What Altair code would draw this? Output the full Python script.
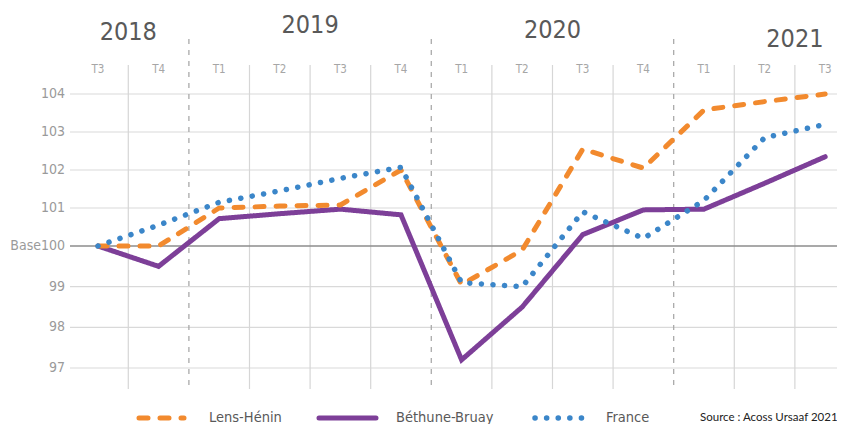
import altair as alt
import pandas as pd

# ---- data ----
quarters = ["T3", "T4", "T1", "T2", "T3", "T4", "T1", "T2", "T3", "T4", "T1", "T2", "T3"]
years = ["2018", "2019", "2020", "2021"]
year_centers = [0.5, 3.5, 7.5, 11.5]          # in quarter-index units
year_boundaries = [1.5, 5.5, 9.5]
series = ["Lens-Hénin", "Béthune-Bruay", "France"]
lens = [100.0, 100.0, 101.0, 101.05, 101.08, 102.0, 99.05, 99.9, 102.55, 102.05, 103.58, 103.8, 104.0]
bethune = [100.0, 99.5, 100.72, 100.85, 100.97, 100.82, 97.2, 98.5, 100.3, 100.95, 100.97, 101.65, 102.35]
france = [100.0, 100.55, 101.15, 101.45, 101.78, 102.07, 99.1, 99.0, 100.9, 100.2, 101.2, 102.85, 103.2]
y_ticks = [104, 103, 102, 101, 100, 99, 98, 97]
y_tick_labels = ["104", "103", "102", "101", "Base100", "99", "98", "97"]
source_text = "Source : Acoss Ursaaf 2021"

# ---- styles ----
FONT = "Liberation Sans Narrow, DejaVu Sans Condensed, sans-serif"
colors = ["#F28A2E", "#7D3F98", "#3B86C9"]
dashes = [[9, 12], [1, 0], [0.1, 11.5]]
W, H = 829, 416

idx = list(range(len(quarters)))
long = pd.DataFrame({
    "idx": idx * 3,
    "serie": [series[0]] * 13 + [series[1]] * 13 + [series[2]] * 13,
    "value": lens + bethune + france,
})
qdf = pd.DataFrame({"idx": idx, "q": quarters})
bounds = pd.DataFrame({"b": [i + 0.5 for i in range(12)]})
bounds["year"] = bounds["b"].isin(year_boundaries)
ticks = pd.DataFrame({"v": y_ticks, "lab": y_tick_labels})
ydf = pd.DataFrame({"year": years, "pos": year_centers})
one = pd.DataFrame({"k": [0]})

x_scale = alt.Scale(domain=[-1.4851, 12.195], nice=False, zero=False)
y_scale = alt.Scale(domain=[97, 100, 104], range=[360, 238, 86], nice=False, zero=False)
col_scale = alt.Scale(domain=series, range=colors)
dash_scale = alt.Scale(domain=series, range=dashes)

X = lambda f: alt.X(f, scale=x_scale, axis=None)
Y = lambda f: alt.Y(f, scale=y_scale, axis=None)

# horizontal gridlines
hgrid = alt.Chart(ticks).transform_filter("datum.v != 100").mark_rule(
    color="#d9d9d9", strokeWidth=1.2).encode(y=Y("v:Q"), x=alt.value(62), x2=alt.value(W))
hbase = alt.Chart(ticks).transform_filter("datum.v == 100").mark_rule(
    color="#8c8c8c", strokeWidth=1.3).encode(y=Y("v:Q"), x=alt.value(62), x2=alt.value(W))

# vertical gridlines
vgrid = alt.Chart(bounds).transform_filter("!datum.year").mark_rule(
    color="#d6d6d6", strokeWidth=1.2).encode(x=X("b:Q"), y=alt.value(57), y2=alt.value(381))
vyear = alt.Chart(bounds).transform_filter("datum.year").mark_rule(
    color="#aaaaaa", strokeWidth=1.3, strokeDash=[5, 6]).encode(x=X("b:Q"), y=alt.value(31), y2=alt.value(377))

# y labels
ylab = alt.Chart(ticks).mark_text(align="right", baseline="middle", font=FONT, fontSize=14,
                                  color="#9a9a9a").encode(y=Y("v:Q"), x=alt.value(57), text="lab:N")

# quarter labels
qlab = alt.Chart(qdf).mark_text(align="center", baseline="middle", font=FONT, fontSize=11.5,
                                color="#a6a6a6").encode(x=X("idx:Q"), y=alt.value(62), text="q:N")

# year labels
year_y = [24, 17, 22, 31]
ylayers = []
for yr, yy in zip(years, year_y):
    ylayers.append(alt.Chart(ydf).transform_filter(alt.datum.year == yr).mark_text(
        align="center", baseline="middle", font=FONT, fontSize=25, color="#595959").encode(
        x=X("pos:Q"), y=alt.value(yy), text="year:N"))

# series lines (drawn purple, orange, blue)
line_layers = []
for s in [series[1], series[0], series[2]]:
    line_layers.append(
        alt.Chart(long).transform_filter(alt.datum.serie == s).mark_line(
            strokeWidth=5 if s != "France" else 5.5, strokeCap="round",
            strokeJoin="miter" if s == "Béthune-Bruay" else "round").encode(
            x=X("idx:Q"), y=Y("value:Q"),
            color=alt.Color("serie:N", scale=col_scale, legend=None),
            strokeDash=alt.StrokeDash("serie:N", scale=dash_scale, legend=None),
        )
    )

# manual legend
leg_x = [(131, 176, 201), (311, 368, 388), (527, 583, 598)]
leg_layers = []
for s, c, d, (x1, x2, tx) in zip(series, colors, dashes, leg_x):
    leg_layers.append(alt.Chart(one).mark_rule(color=c, strokeWidth=5 if s != "France" else 5.5,
                                               strokeCap="round", strokeDash=d).encode(
        x=alt.value(x1), x2=alt.value(x2), y=alt.value(410)))
    leg_layers.append(alt.Chart(one).mark_text(align="left", baseline="middle", font=FONT, fontSize=14.5,
                                               color="#595959", text=s).encode(
        x=alt.value(tx), y=alt.value(410)))

src = alt.Chart(one).mark_text(align="left", baseline="middle", font="Lato, Open Sans, sans-serif",
                               fontSize=11.5, color="#222222", text=source_text).encode(
    x=alt.value(692), y=alt.value(410))

chart = alt.layer(
    hgrid, vgrid, vyear, hbase, ylab, qlab, *ylayers, *line_layers, *leg_layers, src
).properties(
    width=W, height=H, padding=0, autosize=alt.AutoSizeParams(type="none")
).configure_view(stroke=None)

chart.save("out.html", embed_options={"renderer": "svg", "actions": False})
